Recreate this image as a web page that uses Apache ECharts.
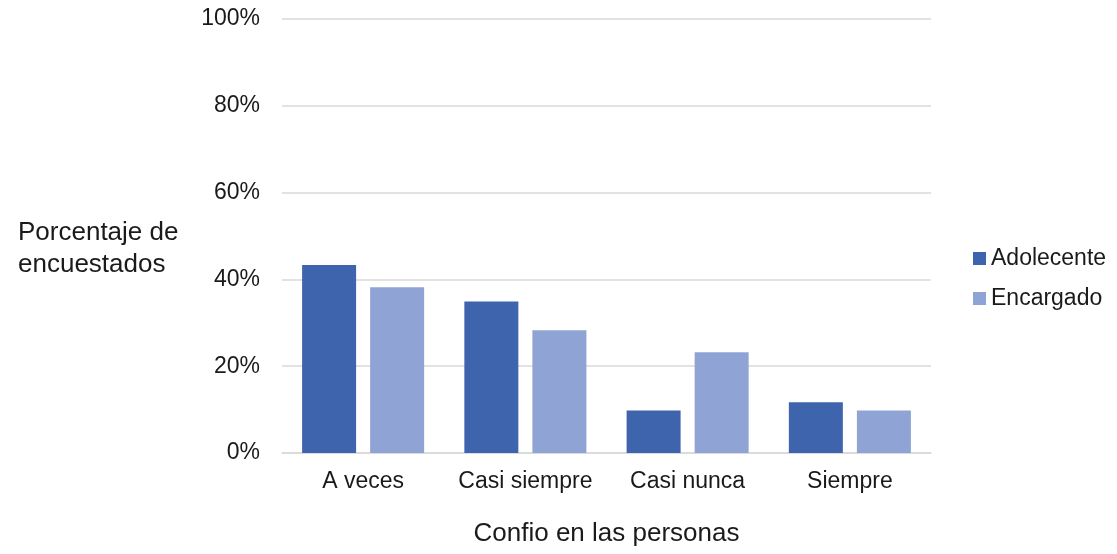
<!DOCTYPE html>
<html>
<head>
<meta charset="utf-8">
<script src="https://cdn.jsdelivr.net/npm/echarts@6/dist/echarts.min.js"></script>
<style>
html, body { margin: 0; padding: 0; background: #fff; }
#chartContainer { width: 1117px; height: 554px; }
</style>
</head>
<body>
<div id="chartContainer"></div>
<script>
var categories = ['A veces', 'Casi siempre', 'Casi nunca', 'Siempre'];
var adolecente = [43.3, 34.9, 9.8, 11.7];
var encargado = [38.2, 28.3, 23.2, 9.8];
var yTicks = [0, 20, 40, 60, 80, 100];

var fontName = 'Liberation Sans, Arial, sans-serif';
var textColor = '#1a1a1a';

var option = {
	animation: false,
	textStyle: { fontFamily: fontName },
	grid: {
		left: 282,
		right: 186,
		top: 19,
		bottom: 101
	},
	legend: {
		orient: 'vertical',
		left: 968,
		top: 242,
		itemWidth: 13,
		itemHeight: 13,
		itemGap: 17,
		icon: 'rect',
		data: ['Adolecente', 'Encargado'],
		textStyle: { fontSize: 23, color: textColor, fontFamily: fontName }
	},
	graphic: [{
		type: 'text',
		left: 18,
		top: 217,
		style: {
			text: 'Porcentaje de\nencuestados',
			font: '26px ' + fontName,
			lineHeight: 32,
			fill: textColor,
			align: 'left'
		}
	}],
	xAxis: {
		type: 'category',
		data: categories,
		name: 'Confio en las personas',
		nameLocation: 'middle',
		nameGap: 68,
		nameTextStyle: { fontSize: 26, color: textColor, fontFamily: fontName },
		axisLine: { lineStyle: { color: '#d9d9d9', width: 1.5 } },
		axisTick: { show: false },
		axisLabel: { interval: 0, fontSize: 23, color: textColor, margin: 17, fontFamily: fontName }
	},
	yAxis: {
		type: 'value',
		min: yTicks[0],
		max: yTicks[yTicks.length - 1],
		interval: 20,
		axisLine: { show: false },
		axisTick: { show: false },
		splitLine: { lineStyle: { color: '#d9d9d9', width: 1.5 } },
		axisLabel: { fontSize: 23, color: textColor, margin: 22, formatter: '{value}%', fontFamily: fontName }
	},
	series: [{
		name: 'Adolecente',
		type: 'bar',
		data: adolecente,
		barWidth: 54,
		barGap: '26%',
		itemStyle: { color: '#3d64ad' }
	}, {
		name: 'Encargado',
		type: 'bar',
		data: encargado,
		barWidth: 54,
		itemStyle: { color: '#8fa3d4' }
	}]
};

var chartContainer = echarts.init(document.getElementById('chartContainer'));
chartContainer.setOption(option);
</script>
</body>
</html>
